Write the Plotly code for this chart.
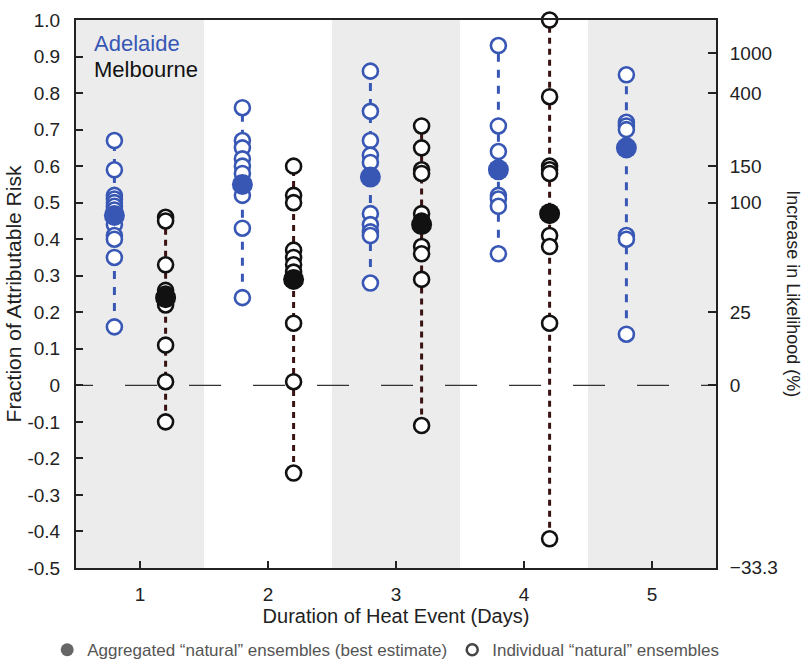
import plotly.graph_objects as go

# Heat-event duration (days)
days = [1, 2, 3, 4, 5]

# Fraction of attributable risk, individual "natural" ensembles
adelaide_members = [
    [0.67, 0.59, 0.52, 0.51, 0.50, 0.49, 0.48, 0.44, 0.41, 0.40, 0.35, 0.16],
    [0.76, 0.67, 0.65, 0.62, 0.60, 0.58, 0.52, 0.43, 0.24],
    [0.86, 0.75, 0.67, 0.63, 0.61, 0.47, 0.44, 0.42, 0.41, 0.28],
    [0.93, 0.71, 0.64, 0.52, 0.51, 0.49, 0.36],
    [0.85, 0.72, 0.71, 0.70, 0.41, 0.40, 0.14],
]
melbourne_members = [
    [0.46, 0.45, 0.33, 0.26, 0.25, 0.22, 0.11, 0.01, -0.10],
    [0.60, 0.52, 0.50, 0.37, 0.35, 0.33, 0.31, 0.17, 0.01, -0.24],
    [0.71, 0.65, 0.59, 0.58, 0.47, 0.45, 0.38, 0.36, 0.29, -0.11],
    [1.00, 0.79, 0.60, 0.59, 0.58, 0.41, 0.38, 0.17, -0.42],
]

# Aggregated ensembles (best estimate)
adelaide_best = [0.465, 0.55, 0.57, 0.59, 0.65]
melbourne_best = [0.24, 0.29, 0.44, 0.47]

# Left axis ticks and right-axis likelihood increase (%)
far_ticks = [1.0, 0.9, 0.8, 0.7, 0.6, 0.5, 0.4, 0.3, 0.2, 0.1, 0.0,
             -0.1, -0.2, -0.3, -0.4, -0.5]
likelihood_ticks = [1000, 400, 150, 100, 25, 0, -33.3]
likelihood_labels = ["1000", "400", "150", "100", "25", "0", "\u221233.3"]

BLUE = "#3857b5"
BLACK = "#111111"
LINE_RED = "#3b1212"
BAND = "#ececec"
AXIS = "#222222"
FONT = "Liberation Sans, Arial, sans-serif"
OFFSET = 0.2


def far_from_pct(p):
    return 1.0 - 1.0 / (1.0 + p / 100.0)


fig = go.Figure()


def add_city(members, best, xoff, color, line_color, dash):
    for i, vals in enumerate(members):
        x = days[i] + xoff
        fig.add_trace(go.Scatter(
            x=[x, x], y=[min(vals), max(vals)], mode="lines",
            line=dict(color=line_color, width=3, dash=dash),
            hoverinfo="skip", showlegend=False))
        fig.add_trace(go.Scatter(
            x=[x] * len(vals), y=vals, mode="markers", cliponaxis=False,
            marker=dict(symbol="circle", size=15, color="white",
                        line=dict(color=color, width=2.6)),
            showlegend=False))
        fig.add_trace(go.Scatter(
            x=[x], y=[best[i]], mode="markers", cliponaxis=False,
            marker=dict(symbol="circle", size=21, color=color,
                        line=dict(color=color, width=0)),
            showlegend=False))


# zero reference line
fig.add_trace(go.Scatter(
    x=[0.383, 5.5], y=[0, 0], mode="lines",
    line=dict(color="#333333", width=1.3, dash="32px,32px"),
    hoverinfo="skip", showlegend=False))

add_city(adelaide_members, adelaide_best, -OFFSET, BLUE, BLUE, "8px,8px")
add_city(melbourne_members, melbourne_best, OFFSET, BLACK, LINE_RED, "6px,5px")

# legend entries
fig.add_trace(go.Scatter(
    x=[None], y=[None], mode="markers",
    marker=dict(symbol="circle", size=13, color="#666666"),
    name="Aggregated \u201cnatural\u201d ensembles (best estimate)"))
fig.add_trace(go.Scatter(
    x=[None], y=[None], mode="markers",
    marker=dict(symbol="circle", size=11, color="white",
                line=dict(color="#444444", width=2.5)),
    name="Individual \u201cnatural\u201d ensembles"))

# y-axis twin for the likelihood scale
fig.add_trace(go.Scatter(x=[None], y=[None], yaxis="y2", showlegend=False))

# alternating shaded day bands
for d in days[::2]:
    fig.add_shape(type="rect", xref="x", yref="paper",
                  x0=d - 0.5, x1=d + 0.5, y0=0, y1=1,
                  fillcolor=BAND, line=dict(width=0), layer="below")

fig.add_annotation(text="Adelaide", xref="paper", yref="paper",
                   x=0.025, y=0.958, xanchor="left", yanchor="middle",
                   showarrow=False, font=dict(family=FONT, size=22, color=BLUE))
fig.add_annotation(text="Melbourne", xref="paper", yref="paper",
                   x=0.025, y=0.91, xanchor="left", yanchor="middle",
                   showarrow=False, font=dict(family=FONT, size=22, color=BLACK))
fig.add_annotation(text="Increase in Likelihood (%)", xref="paper", yref="paper",
                   x=1.12, y=0.5, xanchor="center", yanchor="middle",
                   textangle=90, showarrow=False,
                   font=dict(family=FONT, size=18, color=AXIS))

fig.update_layout(
    width=804, height=661,
    margin=dict(l=76, r=88, t=20, b=93, autoexpand=False),
    paper_bgcolor="white", plot_bgcolor="white",
    font=dict(family=FONT, size=18, color=AXIS),
    showlegend=True,
    legend=dict(orientation="h", x=-0.045, xanchor="left",
                y=-0.15, yanchor="middle",
                font=dict(family=FONT, size=17, color="#555555"),
                itemwidth=30, bgcolor="rgba(0,0,0,0)"),
    xaxis=dict(range=[0.5, 5.5], tickvals=days, ticktext=[str(d) for d in days],
               ticks="inside", ticklen=7, tickwidth=1.5, tickcolor=AXIS,
               ticklabelstandoff=8,
               showline=True, linecolor=AXIS, linewidth=2, mirror=True,
               showgrid=False, zeroline=False,
               title=dict(text="Duration of Heat Event (Days)", standoff=1,
                          font=dict(family=FONT, size=20)),
               tickfont=dict(family=FONT, size=19)),
    yaxis=dict(range=[-0.5, 1.0], tickvals=far_ticks,
               ticktext=["0" if v == 0 else f"{v:.1f}" for v in far_ticks],
               ticks="inside", ticklen=7, tickwidth=1.5, tickcolor=AXIS,
               ticklabelstandoff=10,
               showline=True, linecolor=AXIS, linewidth=2, mirror=True,
               showgrid=False, zeroline=False,
               title=dict(text="Fraction of Attributable Risk", standoff=0,
                          font=dict(family=FONT, size=21)),
               tickfont=dict(family=FONT, size=19)),
    yaxis2=dict(range=[-0.5, 1.0], overlaying="y", side="right",
                tickvals=[far_from_pct(p) for p in likelihood_ticks],
                ticktext=likelihood_labels,
                ticks="inside", ticklen=8, tickwidth=1.5, tickcolor=AXIS,
                ticklabelstandoff=8,
                showline=True, linecolor=AXIS, linewidth=2,
                showgrid=False, zeroline=False,
                tickfont=dict(family=FONT, size=19)),
)

fig.write_html("out.html")
